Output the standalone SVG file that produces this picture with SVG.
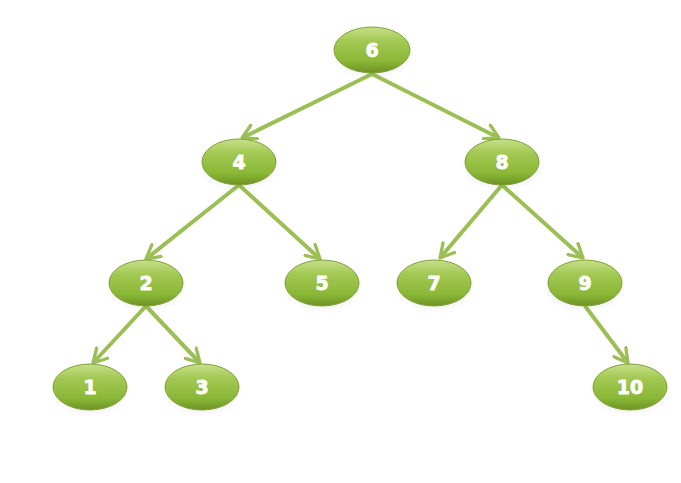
<svg xmlns="http://www.w3.org/2000/svg" width="681" height="483" viewBox="0 0 681 483">
<defs>
<linearGradient id="g" x1="0" y1="0" x2="0" y2="1">
<stop offset="0" stop-color="#c6e08a"/>
<stop offset="0.3" stop-color="#a3c954"/>
<stop offset="0.75" stop-color="#8ab736"/>
<stop offset="1" stop-color="#6c9222"/>
</linearGradient>
<radialGradient id="sh" cx="0.5" cy="0.5" r="0.5">
<stop offset="0" stop-color="#000" stop-opacity="0.16"/>
<stop offset="1" stop-color="#000" stop-opacity="0"/>
</radialGradient>
<marker id="ah" viewBox="0 0 12 12" refX="10" refY="6" markerWidth="4.5" markerHeight="4.5" orient="auto" markerUnits="strokeWidth">
<path d="M1,1 L10,6 L1,11" fill="none" stroke="#9bbf55" stroke-width="2.2" stroke-linecap="round" stroke-linejoin="round"/>
</marker>
</defs>
<style>
.n ellipse.b{fill:url(#g);stroke:#7fa136;stroke-width:1}
.n ellipse.s{fill:url(#sh)}
.n text{font-family:"DejaVu Sans",sans-serif;font-weight:bold;font-size:19px;fill:#fff;text-anchor:middle;dominant-baseline:central;stroke:#fff;stroke-width:0.8}
.e line{stroke:#9bbf55;stroke-width:4;marker-end:url(#ah)}
</style>
<rect width="681" height="483" fill="#fff"/>
<g id="edges" class="e">
<line x1="372" y1="74" x2="242" y2="138"/>
<line x1="372" y1="74" x2="499" y2="138"/>
<line x1="239" y1="185" x2="146" y2="259"/>
<line x1="239" y1="185" x2="320" y2="259"/>
<line x1="502" y1="185" x2="440" y2="258"/>
<line x1="502" y1="185" x2="583" y2="258"/>
<line x1="146" y1="306" x2="93" y2="363"/>
<line x1="146" y1="306" x2="200" y2="363"/>
<line x1="585" y1="306" x2="628" y2="363"/>
</g>
<g id="n6" class="n"><ellipse class="s" cx="372" cy="54" rx="42" ry="26"/><ellipse class="b" cx="372" cy="50" rx="38" ry="23"/><text x="372" y="50">6</text></g>
<g id="n4" class="n"><ellipse class="s" cx="239" cy="166" rx="42" ry="26"/><ellipse class="b" cx="239" cy="162" rx="37" ry="23"/><text x="239" y="162">4</text></g>
<g id="n8" class="n"><ellipse class="s" cx="502" cy="166" rx="42" ry="26"/><ellipse class="b" cx="502" cy="162" rx="37" ry="23"/><text x="502" y="162">8</text></g>
<g id="n2" class="n"><ellipse class="s" cx="146" cy="287" rx="42" ry="26"/><ellipse class="b" cx="146" cy="283" rx="37" ry="23"/><text x="146" y="283">2</text></g>
<g id="n5" class="n"><ellipse class="s" cx="322" cy="287" rx="42" ry="26"/><ellipse class="b" cx="322" cy="283" rx="37" ry="23"/><text x="322" y="283">5</text></g>
<g id="n7" class="n"><ellipse class="s" cx="434" cy="287" rx="42" ry="26"/><ellipse class="b" cx="434" cy="283" rx="37" ry="23"/><text x="434" y="283">7</text></g>
<g id="n9" class="n"><ellipse class="s" cx="585" cy="287" rx="42" ry="26"/><ellipse class="b" cx="585" cy="283" rx="37" ry="23"/><text x="585" y="283">9</text></g>
<g id="n1" class="n"><ellipse class="s" cx="90" cy="391" rx="42" ry="26"/><ellipse class="b" cx="90" cy="387" rx="37" ry="23"/><text x="90" y="387">1</text></g>
<g id="n3" class="n"><ellipse class="s" cx="202" cy="391" rx="42" ry="26"/><ellipse class="b" cx="202" cy="387" rx="37" ry="23"/><text x="202" y="387">3</text></g>
<g id="n10" class="n"><ellipse class="s" cx="630" cy="391" rx="42" ry="26"/><ellipse class="b" cx="630" cy="387" rx="37" ry="23"/><text x="630" y="387">10</text></g>
</svg>
